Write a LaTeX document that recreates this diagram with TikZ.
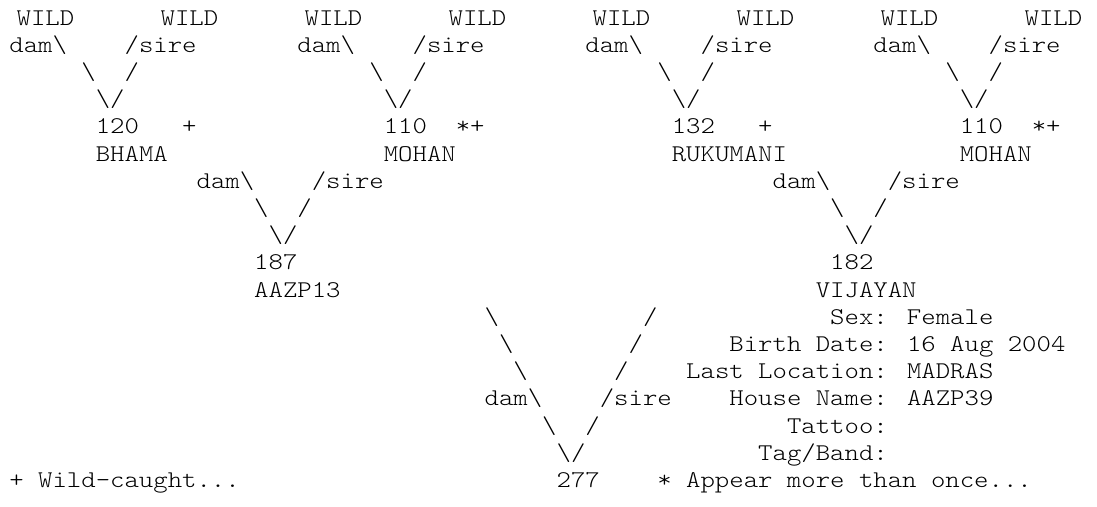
\documentclass[tikz,border=0pt]{standalone}
\usepackage{fontspec}
\usepackage{tikz}
\newfontfamily\pedfont[FakeStretch=1.143]{lmmonolt10-regular.otf}
\newcommand{\colw}{14.4}
\newcommand{\rowh}{27.2}
\newcommand{\bs}{\textbackslash}

\begin{document}
\begin{tikzpicture}[x=1pt, y=-1pt,
  txt/.style={font=\pedfont\fontsize{24}{27}\selectfont, inner sep=0pt,
              anchor=base west, text=black}
]
\useasboundingbox (0,0) rectangle (1097,506);

% --- wild founders (top line sits half a column left) ---
\foreach \k in {0,...,7}
  \node[txt] (wild\k) at ({9.2+(0.5+10*\k)*\colw}, 25) {WILD};

% --- grandparents ---
\foreach \k/\pid/\nm/\flag/\fc in {0/120/BHAMA/+/12, 1/110/MOHAN/*+/11,
                                   2/132/RUKUMANI/+/12, 3/110/MOHAN/*+/11} {
  \pgfmathsetmacro{\base}{20*\k}
  \node[txt] (gdam\k)  at ({9.2+\base*\colw},        {25+\rowh})   {dam\bs};
  \node[txt] (gsire\k) at ({9.2+(\base+8)*\colw},    {25+\rowh})   {/sire};
  \node[txt] (gl\k)    at ({9.2+(\base+5)*\colw},    {25+2*\rowh}) {\bs};
  \node[txt] (gr\k)    at ({9.2+(\base+8)*\colw},    {25+2*\rowh}) {/};
  \node[txt] (gv\k)    at ({9.2+(\base+6)*\colw},    {25+3*\rowh}) {\bs/};
  \node[txt] (gid\k)   at ({9.2+(\base+6)*\colw},    {25+4*\rowh}) {\pid};
  \node[txt] (gfl\k)   at ({9.2+(\base+\fc)*\colw},  {25+4*\rowh}) {\flag};
  \node[txt] (gnm\k)   at ({9.2+(\base+6)*\colw},    {25+5*\rowh}) {\nm};
}

% --- parents ---
\foreach \j/\pid/\nm/\nc in {0/187/AAZP13/4, 1/182/VIJAYAN/3} {
  \pgfmathsetmacro{\base}{13+40*\j}
  \node[txt] (pdam\j)  at ({9.2+\base*\colw},       {25+6*\rowh})  {dam\bs};
  \node[txt] (psire\j) at ({9.2+(\base+8)*\colw},   {25+6*\rowh})  {/sire};
  \node[txt] (pl\j)    at ({9.2+(\base+4)*\colw},   {25+7*\rowh})  {\bs};
  \node[txt] (pr\j)    at ({9.2+(\base+7)*\colw},   {25+7*\rowh})  {/};
  \node[txt] (pv\j)    at ({9.2+(\base+5)*\colw},   {25+8*\rowh})  {\bs/};
  \node[txt] (pid\j)   at ({9.2+(\base+4)*\colw},   {25+9*\rowh})  {\pid};
  \node[txt] (pnm\j)   at ({9.2+(\base+\nc)*\colw}, {25+10*\rowh}) {\nm};
}

% --- focal animal ---
\foreach \i in {0,1,2} {
  \node[txt] (fl\i) at ({9.2+(33+\i)*\colw}, {25+(11+\i)*\rowh}) {\bs};
  \node[txt] (fr\i) at ({9.2+(44-\i)*\colw}, {25+(11+\i)*\rowh}) {/};
}
\node[txt] (fdam)  at ({9.2+33*\colw}, {25+14*\rowh}) {dam\bs};
\node[txt] (fsire) at ({9.2+41*\colw}, {25+14*\rowh}) {/sire};
\node[txt] (fl3)   at ({9.2+37*\colw}, {25+15*\rowh}) {\bs};
\node[txt] (fr3)   at ({9.2+40*\colw}, {25+15*\rowh}) {/};
\node[txt] (fv)    at ({9.2+38*\colw}, {25+16*\rowh}) {\bs/};
\node[txt] (fid)   at ({9.2+38*\colw}, {25+17*\rowh}) {277};

% --- details ---
\node[txt] (sex)   at ({9.2+57*\colw}, {25+11*\rowh}) {Sex: Female};
\node[txt] (birth) at ({9.2+50*\colw}, {25+12*\rowh}) {Birth Date: 16 Aug 2004};
\node[txt] (loc)   at ({9.2+47*\colw}, {25+13*\rowh}) {Last Location: MADRAS};
\node[txt] (house) at ({9.2+50*\colw}, {25+14*\rowh}) {House Name: AAZP39};
\node[txt] (tat)   at ({9.2+54*\colw}, {25+15*\rowh}) {Tattoo:};
\node[txt] (tag)   at ({9.2+52*\colw}, {25+16*\rowh}) {Tag/Band:};

% --- legend ---
\node[txt] (wildkey) at (9.2, {25+17*\rowh}) {+ Wild-caught...};
\node[txt] (dupkey)  at ({9.2+45*\colw}, {25+17*\rowh}) {* Appear more than once...};

\end{tikzpicture}
\end{document}
